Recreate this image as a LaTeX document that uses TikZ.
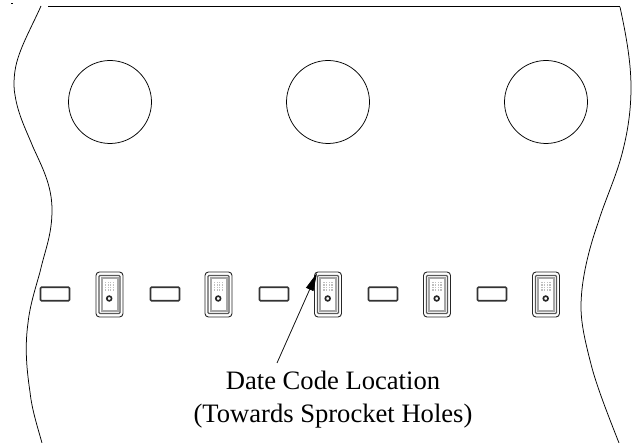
\documentclass[tikz,border=0pt]{standalone}
\usepackage{fontspec}
\setmainfont{Liberation Serif}
\usetikzlibrary{arrows.meta}
\tikzset{
  x=1pt,y=-1pt,
  edge/.style={black,line width=0.75pt},
  hole/.style={circle,draw=black,line width=0.75pt,minimum size=83pt,inner sep=0pt},
  pocket/.style={draw=black!80,line width=1.6pt,rounded corners=1pt,fill=white},
  label/.style={font=\fontsize{26.6pt}{33pt}\selectfont,align=center,inner sep=0pt,text=black},
}
\newcommand{\partcell}[1]{%
  \begin{scope}[shift={(#1,294.5)}]
    \draw[black!85,line width=0.9pt,rounded corners=3.5pt] (-13.5,-22.5) rectangle (13.5,22.5);
    \draw[black!65,line width=1.1pt,rounded corners=1pt] (-10.5,-19) rectangle (10.5,19);
    \draw[black!35,line width=2pt,fill=white] (-8,-16.5) rectangle (8,16.5);
    \foreach \u in {-4,-1.3,1.3,4}{\foreach \v in {-12,-9.5,-7,-4.5}{
      \fill[black!25] (\u-0.6,\v-0.6) rectangle (\u+0.6,\v+0.6);}}
    \draw[black!85,line width=1.6pt] (-0.3,4) circle (2.4pt);
  \end{scope}}
\begin{document}
\begin{tikzpicture}
\useasboundingbox (0,0) rectangle (635,443);
\fill[white] (0,0) rectangle (635,443);
\coordinate (tl) at (48,6.5);
\coordinate (tr) at (620,6.5);
\draw[edge] (tl) -- (tr);
\draw[edge] (41,6) .. controls (33,24) and (23,42) .. (18,58)
  .. controls (14,70) and (13,85) .. (15,95)
  .. controls (18,115) and (27,132) .. (33,147)
  .. controls (42,167) and (52,185) .. (52,210)
  .. controls (52,235) and (45,250) .. (40,272)
  .. controls (35,290) and (30,305) .. (28,323)
  .. controls (25,345) and (26,365) .. (30,392)
  .. controls (32,410) and (37,425) .. (42,443);
\draw[edge] (620,7) .. controls (625,30) and (631,60) .. (631,87)
  .. controls (631,110) and (628,130) .. (623,150)
  .. controls (617,175) and (605,200) .. (598,223)
  .. controls (592,240) and (581,275) .. (581,307)
  .. controls (581,325) and (586,345) .. (592,368)
  .. controls (598,390) and (610,420) .. (619,443);
\node[hole] (c1) at (110,102) {};
\node[hole] (c2) at (328,102) {};
\node[hole] (c3) at (546,102) {};
\foreach \n/\x in {a/55,b/165,c/274,d/383,e/492}{
  \node[pocket,minimum width=29pt,minimum height=13.5pt,inner sep=0pt] (p\n) at (\x,294) {};
}
\foreach \x in {109.5,218.5,328,437,546}{\partcell{\x}}
\fill[black] (11,3) rectangle (13,4);
\node[label,anchor=base] (t) at (333,423) {Date Code Location\\(Towards Sprocket Holes)};
\coordinate (from) at (277,363);
\coordinate (tip) at (317,273);
\draw[black,line width=0.75pt,-{Triangle[length=18pt,width=8pt]}] (from) -- (tip);
\end{tikzpicture}
\end{document}
